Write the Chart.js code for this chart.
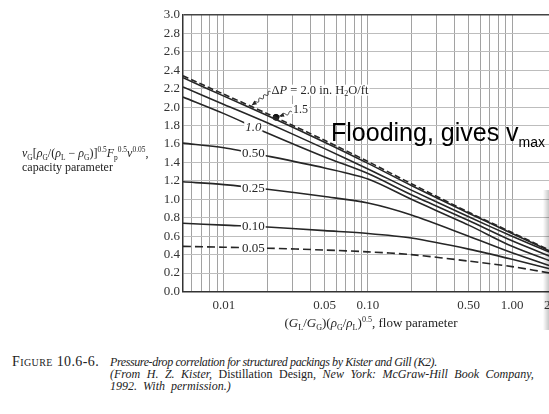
<!DOCTYPE html>
<html>
<head>
<meta charset="utf-8">
<script src="https://cdn.jsdelivr.net/npm/chart.js@4.4.0/dist/chart.umd.min.js"></script>
<style>
  html, body { margin: 0; padding: 0; background: #fff; overflow: hidden; width: 549px; height: 414px; }
  #wrap { position: relative; width: 549px; height: 414px; overflow: hidden; }
  #chart { position: absolute; left: 0; top: 0; }
  .serif { font-family: "Liberation Serif", "DejaVu Serif", serif; color: #222; position: absolute; white-space: nowrap; }
  .sb { font-size: 0.62em; position: relative; top: 3px; }
  .sp { font-size: 0.62em; position: relative; top: -5px; }
  #ytitle { left: 22px; top: 147px; font-size: 12px; line-height: 12px; }
  #xtitle { left: 371px; top: 315px; font-size: 13px; transform: translateX(-50%); }
  #caption { left: 12px; top: 356px; font-size: 12px; line-height: 12px; }
  #caption .fig { font-style: normal; font-variant: small-caps; font-size: 14px; letter-spacing: 0.4px; display: inline-block; width: 98px; }
  #caption .ind { display: inline-block; width: 98px; }
  #caption .l1 { letter-spacing: -0.4px; }
  #caption .l2 { word-spacing: 3.5px; }
  #caption .l3 { word-spacing: 3px; }
  #flood { position: absolute; left: 331px; top: 120px; font-family: Arial, "Liberation Sans", sans-serif; font-size: 25px; line-height: 25px; color: #000; white-space: nowrap; }
  #flood sub { font-size: 14px; vertical-align: baseline; position: relative; top: 6px; }
  #shade { position: absolute; left: 543px; top: 190px; width: 6px; height: 140px; background: linear-gradient(to right, rgba(0,0,0,0), rgba(0,0,0,0.22)); }
</style>
</head>
<body>
<div id="wrap">
  <canvas id="chart" width="600" height="330"></canvas>
  <div id="ytitle" class="serif"><i>v</i><span class="sb">G</span>[<i>ρ</i><span class="sb">G</span>/(<i>ρ</i><span class="sb">L</span> − <i>ρ</i><span class="sb">G</span>)]<span class="sp">0.5</span><i>F</i><span class="sb">p</span><span class="sp">0.5</span><i>ν</i><span class="sp">0.05</span>,<br>capacity parameter</div>
  <div id="xtitle" class="serif">(<i>G</i><span class="sb">L</span>/<i>G</i><span class="sb">G</span>)(<i>ρ</i><span class="sb">G</span>/<i>ρ</i><span class="sb">L</span>)<span class="sp">0.5</span>, flow parameter</div>
  <div id="caption" class="serif"><span class="fig">Figure 10.6-6.</span><i class="l1">Pressure-drop correlation for structured packings by Kister and Gill (K2).</i><br><span class="ind"></span><span class="l2"><i>(From H. Z. Kister,</i> Distillation Design, <i>New York: McGraw-Hill Book Company,</i></span><br><span class="ind"></span><i class="l3">1992. With permission.)</i></div>
  <div id="flood">Flooding, gives v<sub>max</sub></div>
  <div id="shade"></div>
</div>
<script>
// flow parameter (x) where the curves were read
const flowParam = [0.0052, 0.01, 0.02, 0.05, 0.1, 0.2, 0.5, 1.0, 2.0];

// capacity parameter for each pressure-drop curve (in. H2O/ft)
const dpFlood = [2.34, 2.14, 1.93, 1.64, 1.41, 1.17, 0.86, 0.64, 0.42];
const dp20    = [2.32, 2.12, 1.91, 1.62, 1.39, 1.15, 0.85, 0.63, 0.41];
const dp15    = [2.22, 2.03, 1.83, 1.55, 1.33, 1.10, 0.81, 0.60, 0.40];
const dp10    = [2.11, 1.93, 1.72, 1.46, 1.28, 1.05, 0.77, 0.55, 0.36];
const dp050   = [1.61, 1.56, 1.47, 1.34, 1.22, 1.00, 0.72, 0.49, 0.31];
const dp025   = [1.19, 1.16, 1.11, 1.03, 0.96, 0.83, 0.60, 0.42, 0.26];
const dp010   = [0.74, 0.72, 0.70, 0.66, 0.63, 0.58, 0.46, 0.35, 0.23];
const dp005   = [0.49, 0.48, 0.47, 0.45, 0.43, 0.40, 0.33, 0.27, 0.19];

// marked point on the top curve (ΔP = 1.5 arrow)
const markPoint = { x: 0.023, y: 1.89 };

// axes
const xGrid = [0.006, 0.007, 0.008, 0.009, 0.01, 0.02, 0.03, 0.04, 0.05, 0.06, 0.07, 0.08, 0.09,
               0.1, 0.2, 0.3, 0.4, 0.5, 0.6, 0.7, 0.8, 0.9, 1, 2];
const xTickText = { 0.01: "0.01", 0.05: "0.05", 0.1: "0.10", 0.5: "0.50", 1: "1.00", 2: "2.00" };
const yTicks = [0, 0.2, 0.4, 0.6, 0.8, 1.0, 1.2, 1.4, 1.6, 1.8, 2.0, 2.2, 2.4, 2.6, 2.8, 3.0];
const xMin = 0.0052, xMax = 2;
const yMin = 0, yMax = 3;

// inline curve labels: text, dataset index, flow parameter where it sits
const curveLabels = [
  { text: "1.0",  ds: 3, x: 0.016, italic: true },
  { text: "0.50", ds: 4, x: 0.016 },
  { text: "0.25", ds: 5, x: 0.016 },
  { text: "0.10", ds: 6, x: 0.016 },
  { text: "0.05", ds: 7, x: 0.016 },
];

const INK = "#262626";
const SERIF = '"Liberation Serif", "DejaVu Serif", serif';

function pts(arr) {
  return flowParam.map((x, i) => ({ x, y: arr[i] }));
}

function lineDs(label, arr, dash) {
  return {
    label, data: pts(arr),
    borderColor: INK, borderWidth: 1.6, borderDash: dash || [],
    pointRadius: 0, tension: 0.3, fill: false
  };
}

// value of a curve at x, linear in log-x between the read points
function curveAt(arr, x) {
  const lx = Math.log10(x);
  for (let i = 0; i < flowParam.length - 1; i++) {
    const a = Math.log10(flowParam[i]), b = Math.log10(flowParam[i + 1]);
    if (lx >= a && lx <= b) {
      const t = (lx - a) / (b - a);
      return arr[i] + t * (arr[i + 1] - arr[i]);
    }
  }
  return arr[arr.length - 1];
}

function wavyArrow(ctx, x0, y0, x1, y1) {
  const dx = x1 - x0, dy = y1 - y0;
  const len = Math.hypot(dx, dy);
  const ux = dx / len, uy = dy / len;
  const nx = -uy, ny = ux;
  const waves = Math.max(2, Math.round(len / 6));
  ctx.beginPath();
  const steps = 40;
  for (let s = 0; s <= steps; s++) {
    const t = s / steps;
    const amp = (t > 0.85) ? 0 : 1.4;
    const off = amp * Math.sin(t * waves * Math.PI * 2);
    const px = x0 + dx * t + nx * off, py = y0 + dy * t + ny * off;
    if (s === 0) ctx.moveTo(px, py); else ctx.lineTo(px, py);
  }
  ctx.stroke();
  // head
  ctx.beginPath();
  ctx.moveTo(x1, y1);
  ctx.lineTo(x1 - ux * 5 + nx * 2.2, y1 - uy * 5 + ny * 2.2);
  ctx.lineTo(x1 - ux * 5 - nx * 2.2, y1 - uy * 5 - ny * 2.2);
  ctx.closePath();
  ctx.fill();
}

const curveText = {
  id: "curveText",
  afterDatasetsDraw(chart) {
    const { ctx, scales } = chart;
    const xs = scales.x, ys = scales.y;
    const series = [dpFlood, dp20, dp15, dp10, dp050, dp025, dp010, dp005];
    ctx.save();
    ctx.textAlign = "center";
    ctx.textBaseline = "middle";
    for (const l of curveLabels) {
      const px = xs.getPixelForValue(l.x);
      const py = ys.getPixelForValue(curveAt(series[l.ds], l.x));
      ctx.font = (l.italic ? "italic " : "") + "13px " + SERIF;
      const w = ctx.measureText(l.text).width;
      ctx.fillStyle = "#fff";
      ctx.fillRect(px - w / 2 - 1, py - 5, w + 2, 10);
      ctx.fillStyle = INK;
      ctx.fillText(l.text, px, py + 0.5);
    }

    // ΔP = 2.0 in. H2O/ft note
    ctx.textAlign = "left";
    ctx.textBaseline = "alphabetic";
    let tx = xs.getPixelForValue(0.0214), ty = ys.getPixelForValue(2.19) + 4;
    const parts = [
      ["Δ", "12.5px"], ["P", "italic 12.5px"], [" = 2.0 in. H", "12.5px"], ["2", "8px", 2], ["O/ft", "12.5px"]
    ];
    let total = 0;
    for (const p of parts) { ctx.font = p[1] + " " + SERIF; total += ctx.measureText(p[0]).width; }
    ctx.fillStyle = "#fff";
    ctx.fillRect(tx - 1, ty - 9, total + 2, 11);
    ctx.fillStyle = INK;
    for (const p of parts) {
      ctx.font = p[1] + " " + SERIF;
      ctx.fillText(p[0], tx, ty + (p[2] || 0));
      tx += ctx.measureText(p[0]).width;
    }
    ctx.strokeStyle = INK;
    ctx.fillStyle = INK;
    ctx.lineWidth = 0.9;
    const ax = xs.getPixelForValue(0.0214) - 1, ay = ys.getPixelForValue(2.19) + 2;
    wavyArrow(ctx, ax, ay, xs.getPixelForValue(0.0156), ys.getPixelForValue(2.02));

    // 1.5 note
    const fx = xs.getPixelForValue(0.0302), fy = ys.getPixelForValue(1.98);
    ctx.font = "12px " + SERIF;
    ctx.fillStyle = "#fff";
    ctx.fillRect(fx - 1, fy - 5, ctx.measureText("1.5").width + 2, 10);
    ctx.fillStyle = INK;
    ctx.fillText("1.5", fx, fy + 4);
    const mx = xs.getPixelForValue(markPoint.x), my = ys.getPixelForValue(markPoint.y);
    wavyArrow(ctx, fx - 1, fy + 3, mx + 3, my - 1);
    ctx.restore();
  }
};

new Chart(document.getElementById("chart"), {
  type: "line",
  data: {
    datasets: [
      lineDs("Flooding", dpFlood, [6, 3]),
      lineDs("2.0", dp20),
      lineDs("1.5", dp15),
      lineDs("1.0", dp10),
      lineDs("0.50", dp050),
      lineDs("0.25", dp025),
      lineDs("0.10", dp010),
      lineDs("0.05", dp005, [8, 4]),
      {
        label: "mark", data: [markPoint], showLine: false,
        pointRadius: 3, pointBackgroundColor: "#111", pointBorderColor: "#111"
      }
    ]
  },
  options: {
    responsive: false,
    animation: false,
    devicePixelRatio: 1,
    layout: { padding: { left: 140, top: 15, right: 44.6, bottom: 0 } },
    plugins: { legend: { display: false }, tooltip: { enabled: false } },
    scales: {
      x: {
        type: "logarithmic",
        min: xMin, max: xMax,
        afterBuildTicks(scale) { scale.ticks = xGrid.map(v => ({ value: v })); },
        afterFit(scale) { scale.height = 38.5; },
        ticks: {
          autoSkip: false, maxRotation: 0, padding: 6,
          color: "#333", font: { family: SERIF, size: 13 },
          callback: v => xTickText[v] || ""
        },
        grid: { color: "#a2a2a2", lineWidth: 1, drawTicks: false },
        border: { color: "#333", width: 1.5 }
      },
      y: {
        min: yMin, max: yMax,
        afterBuildTicks(scale) { scale.ticks = yTicks.map(v => ({ value: v })); },
        afterFit(scale) { scale.width = 43; },
        ticks: {
          autoSkip: false, padding: 3,
          color: "#333", font: { family: SERIF, size: 13 },
          callback: v => Number(v).toFixed(1)
        },
        grid: {
          color: c => (Math.abs(c.tick.value - yMax) < 1e-6 ? "#444" : "#bdbdbd"),
          lineWidth: c => (Math.abs(c.tick.value - yMax) < 1e-6 ? 1.5 : 1),
          drawTicks: false
        },
        border: { color: "#333", width: 1.5 }
      }
    }
  },
  plugins: [curveText]
});
</script>
</body>
</html>
